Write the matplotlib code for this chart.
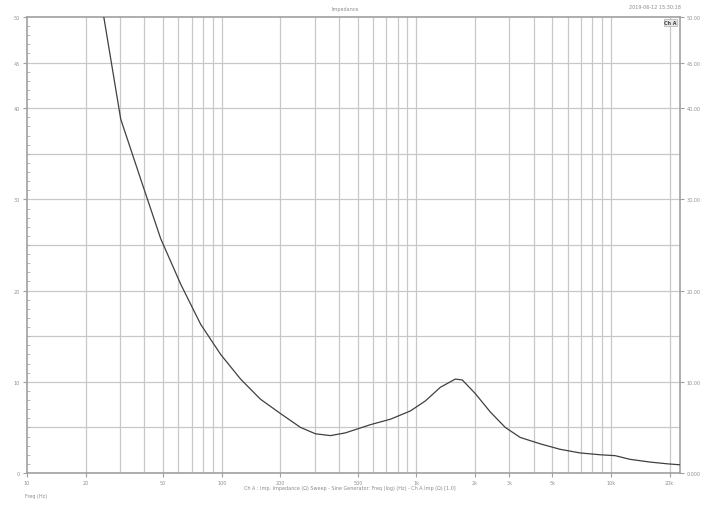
import matplotlib
matplotlib.use("Agg")
import matplotlib.pyplot as plt
from matplotlib.ticker import FixedLocator, NullFormatter
import numpy as np

# ---- data ----
freq_hz = [24.8, 30.3, 38.4, 48.6, 61.6, 78.0, 98.8, 125, 158, 201, 254, 303, 362,
           432, 581, 736, 931, 1112, 1328, 1585, 1722, 2009, 2395, 2860, 3415,
           4323, 5470, 6930, 8790, 10500, 12500, 15850, 19600, 22600]
impedance = [50.0, 38.8, 32.2, 25.7, 20.7, 16.3, 13.0, 10.3, 8.1, 6.5, 5.0, 4.3, 4.1,
             4.4, 5.3, 5.9, 6.8, 7.9, 9.4, 10.3, 10.2, 8.7, 6.7, 5.0, 3.9,
             3.2, 2.6, 2.2, 2.0, 1.9, 1.5, 1.2, 1.0, 0.9]

x_ticks = [10, 20, 50, 100, 200, 500, 1000, 2000, 3000, 5000, 10000, 20000]
x_ticklabels = ["10", "20", "50", "100", "200", "500", "1k", "2k", "3k", "5k", "10k", "20k"]
y_ticks = [0, 10, 20, 30, 40, 45, 50]
y_left_labels = ["0", "10", "20", "30", "40", "45", "50"]
y_right_labels = ["0.000", "10.00", "20.00", "30.00", "40.00", "45.00", "50.00"]

# ---- figure ----
fig = plt.figure(figsize=(7.07, 5.10), dpi=100)
ax = fig.add_axes([27/707, 1-474/510, (680-27)/707, (474-18)/510])

ax.set_xscale("log")
ax.set_xlim(10, 22600)
ax.set_ylim(0, 50)

gridc = "#c8c8c8"
# vertical grid lines at 2..9 x decades
vlines = []
for d in [10, 100, 1000, 10000]:
    for m in range(1, 10):
        v = d*m
        if 10 < v < 22600:
            vlines.append(v)
for v in vlines:
    ax.axvline(v, color=gridc, lw=0.9, zorder=1)
for h in np.arange(5, 50, 5):
    ax.axhline(h, color=gridc, lw=0.9, zorder=1)

ax.plot(freq_hz, impedance, color="#404040", lw=0.9, zorder=3, clip_on=True)

for s in ax.spines.values():
    s.set_color("#a0a0a0")
    s.set_linewidth(1.2)

ax.xaxis.set_major_locator(FixedLocator(x_ticks))
ax.xaxis.set_minor_locator(FixedLocator([]))
ax.xaxis.set_minor_formatter(NullFormatter())
ax.set_xticklabels(x_ticklabels)
ax.tick_params(axis="x", which="major", length=3, direction="out", color="#a0a0a0",
               labelsize=3.5, labelcolor="#909090", pad=2)

ax.yaxis.set_major_locator(FixedLocator(y_ticks))
ax.set_yticklabels(y_left_labels)
ax.yaxis.set_minor_locator(FixedLocator(np.arange(0, 50.01, 1)))
ax.tick_params(axis="y", which="major", length=3, direction="out", color="#a0a0a0",
               labelsize=3.5, labelcolor="#909090", pad=2, right=True, labelright=False)
ax.tick_params(axis="y", which="minor", length=2, direction="in", color="#b0b0b0",
               left=True, right=True)

ax2 = ax.twinx()
ax2.set_ylim(0, 50)
ax2.yaxis.set_major_locator(FixedLocator(y_ticks))
ax2.set_yticklabels(y_right_labels)
ax2.tick_params(axis="y", length=3, direction="out", color="#a0a0a0",
                labelsize=3.5, labelcolor="#909090", pad=2)
for s in ax2.spines.values():
    s.set_visible(False)

tc = "#8c8c8c"
fig.text(345/707, 1-9/510, "Impedance", ha="center", va="center", fontsize=3.5, color=tc)
fig.text(655/707, 1-8/510, "2019-06-12 15:30:18", ha="center", va="center", fontsize=3.5, color=tc)
ax.text(0.995, 0.993, "Ch A", transform=ax.transAxes, ha="right", va="top",
        fontsize=3.5, color="#404040", fontweight="bold",
        bbox=dict(boxstyle="square,pad=0.15", fc="#e8e8e8", ec="#b0b0b0", lw=0.5), zorder=5)
fig.text(350/707, 1-489/510,
         "Ch A : Imp. Impedance (\u03a9) Sweep - Sine Generator: Freq (log) (Hz) - Ch A Imp (\u03a9) [1.0]",
         ha="center", va="center", fontsize=3.5, color=tc)
fig.text(25/707, 1-497/510, "Freq (Hz)", ha="left", va="center", fontsize=3.5, color=tc)

fig.savefig("out.png", dpi=100)
